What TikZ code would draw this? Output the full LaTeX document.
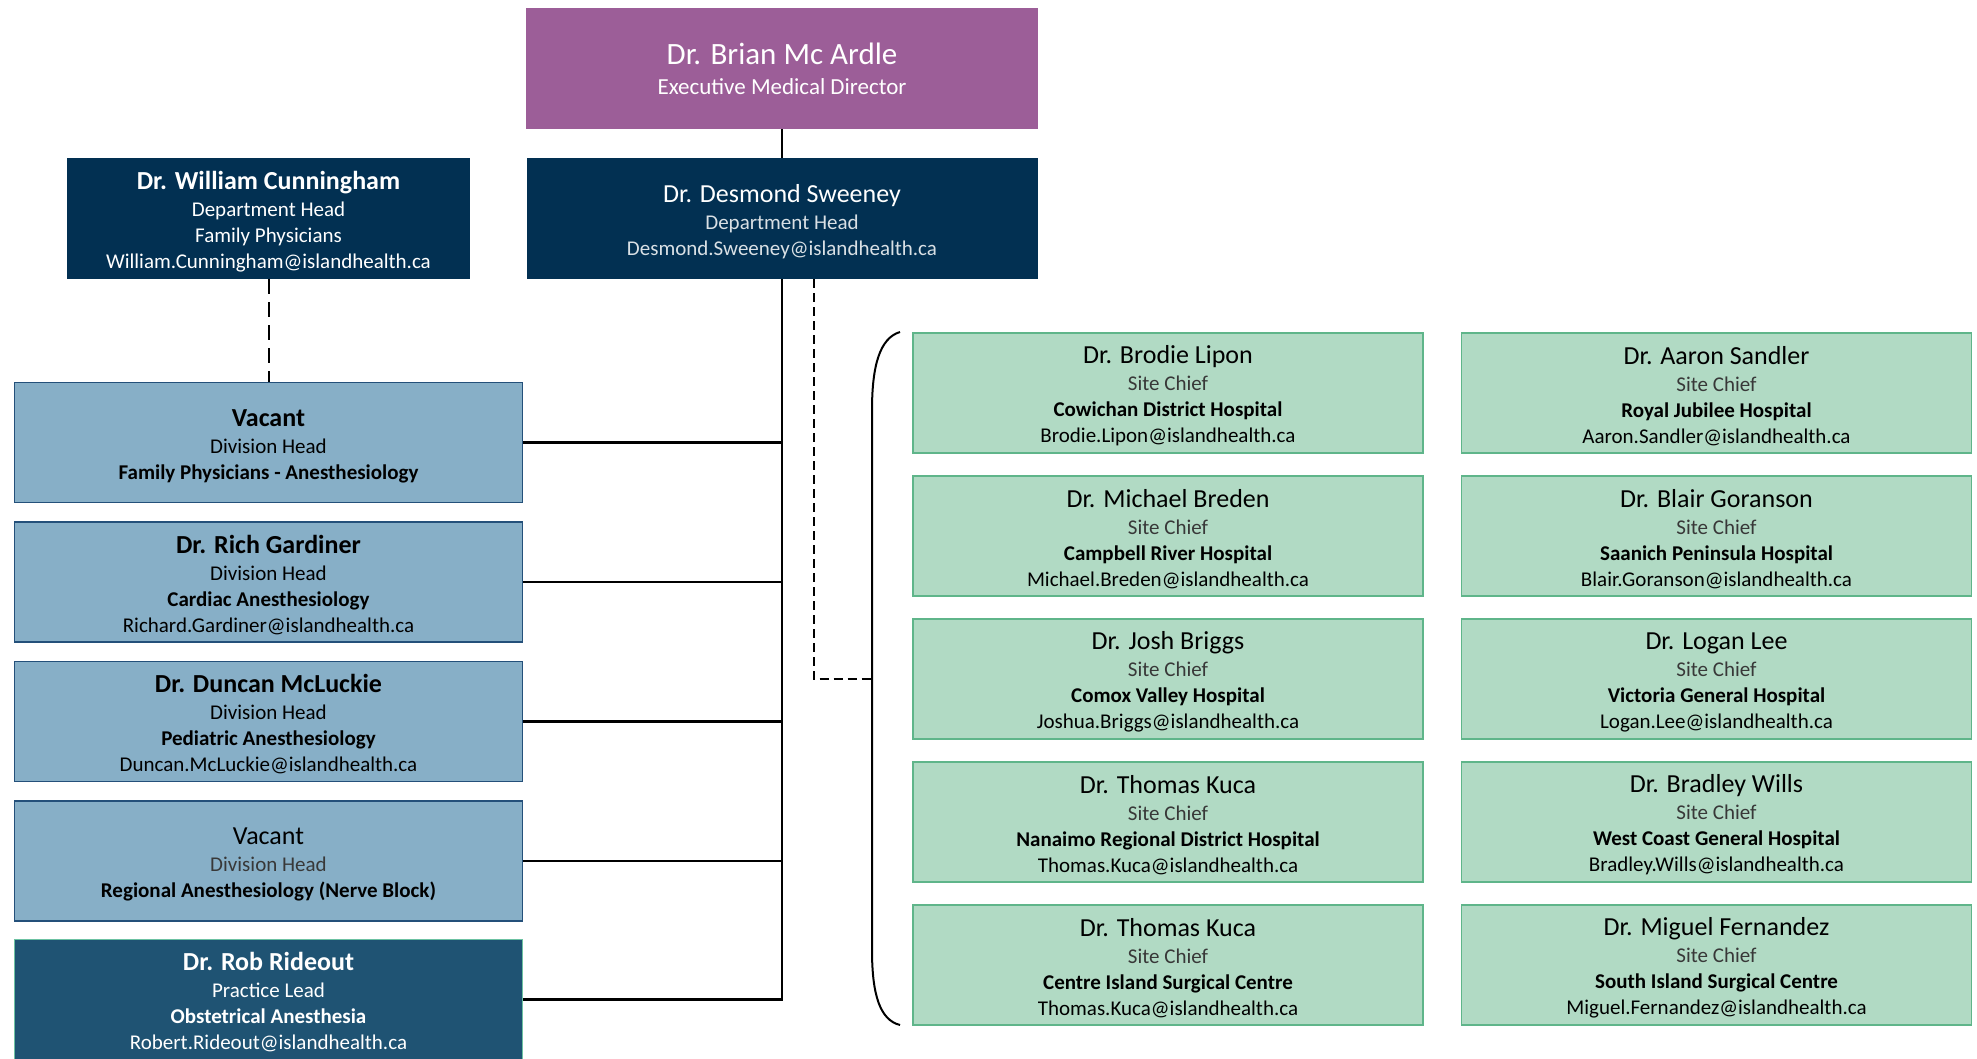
\documentclass[tikz,border=0pt]{standalone}
\usepackage{fontspec}
\setmainfont{Carlito}
\usepackage{xcolor}
\usepackage{tikz}
\usetikzlibrary{positioning, calc}
\definecolor{execpurple}{HTML}{9C5E98}
\definecolor{headnavy}{HTML}{023052}
\definecolor{divblue}{HTML}{87AFC7}
\definecolor{divedge}{HTML}{24507A}
\definecolor{leadblue}{HTML}{1F5373}
\definecolor{leadedge}{HTML}{6CC2A2}
\definecolor{sitegreen}{HTML}{B1DAC4}
\definecolor{siteedge}{HTML}{5FB58A}
\newcommand\subsize{\fontsize{21}{26}\selectfont}
\newcommand\persname[1]{{\fontsize{26}{26}\selectfont\rule{0pt}{24pt}#1}\\[1pt]}
\newcommand\boldname[1]{{\fontsize{26}{26}\selectfont\bfseries\rule{0pt}{24pt}#1}\\[1pt]}
\newcommand\litetext[1]{{\color{black!78}#1}}
\tikzset{
  box/.style={minimum width=512pt, minimum height=121pt, inner sep=0pt, align=center, font=\subsize},
  execbox/.style={box, fill=execpurple, text=white},
  headbox/.style={box, minimum width=511pt, fill=headnavy, text=white},
  divbox/.style={box, minimum width=508pt, minimum height=120pt, fill=divblue, draw=divedge, line width=1.5pt},
  leadbox/.style={divbox, fill=leadblue, draw=leadedge, text=white},
  sitebox/.style={box, minimum width=510pt, minimum height=120pt, fill=sitegreen, draw=siteedge, line width=1.5pt},
  link/.style={line width=2.5pt},
  dotlink/.style={line width=2pt, dash pattern=on 9pt off 5pt},
  longdash/.style={line width=2pt, dash pattern=on 15pt off 8pt}
}

\begin{document}
\begin{tikzpicture}[x=1pt,y=-1pt]
      \useasboundingbox (0,0) rectangle (1977,1059);

      % top of the chart
      \node [execbox] (exec) at (782,68.5) {{\fontsize{31}{34}\selectfont Dr. Brian Mc Ardle}\\[4pt]{\fontsize{23}{26}\selectfont Executive Medical Director}};
      \node [headbox] (sween) at (782,218.5) {\persname{Dr. Desmond Sweeney}{\color{white!85!headnavy}Department Head}\\{\color{white!85!headnavy}Desmond.Sweeney@islandhealth.ca}};
      \node [headbox, minimum width=403pt] (cunn) at (268.5,218.5) {\boldname{Dr. William Cunningham}Department Head\\Family Physicians\\William.Cunningham@islandhealth.ca};

      % divisions
      \node [divbox] (vac1) at (268.5,442.5) {\boldname{Vacant}Division Head\\\textbf{Family Physicians - Anesthesiology}};
      \node [divbox] (gard) at (268.5,582) {\boldname{Dr. Rich Gardiner}Division Head\\\textbf{Cardiac Anesthesiology}\\Richard.Gardiner@islandhealth.ca};
      \node [divbox] (mcl) at (268.5,721.5) {\boldname{Dr. Duncan McLuckie}Division Head\\\textbf{Pediatric Anesthesiology}\\Duncan.McLuckie@islandhealth.ca};
      \node [divbox] (vac2) at (268.5,861) {\persname{Vacant}\litetext{Division Head}\\\textbf{Regional Anesthesiology (Nerve Block)}};
      \node [leadbox] (ride) at (268.5,999.5) {\boldname{Dr. Rob Rideout}Practice Lead\\\textbf{Obstetrical Anesthesia}\\Robert.Rideout@islandhealth.ca};

      % site chiefs
      \node [sitebox] (lipon) at (1168,393) {\persname{Dr. Brodie Lipon}\litetext{Site Chief}\\\textbf{Cowichan District Hospital}\\Brodie.Lipon@islandhealth.ca};
      \node [sitebox] (breden) at (1168,536) {\persname{Dr. Michael Breden}\litetext{Site Chief}\\\textbf{Campbell River Hospital}\\Michael.Breden@islandhealth.ca};
      \node [sitebox] (briggs) at (1168,679) {\persname{Dr. Josh Briggs}\litetext{Site Chief}\\\textbf{Comox Valley Hospital}\\Joshua.Briggs@islandhealth.ca};
      \node [sitebox] (kuca) at (1168,822) {\persname{Dr. Thomas Kuca}\litetext{Site Chief}\\\textbf{Nanaimo Regional District Hospital}\\Thomas.Kuca@islandhealth.ca};
      \node [sitebox] (kucb) at (1168,965) {\persname{Dr. Thomas Kuca}\litetext{Site Chief}\\\textbf{Centre Island Surgical Centre}\\Thomas.Kuca@islandhealth.ca};
      \node [sitebox] (sandler) at (1716.5,393) {\persname{Dr. Aaron Sandler}\litetext{Site Chief}\\\textbf{Royal Jubilee Hospital}\\Aaron.Sandler@islandhealth.ca};
      \node [sitebox] (goranson) at (1716.5,536) {\persname{Dr. Blair Goranson}\litetext{Site Chief}\\\textbf{Saanich Peninsula Hospital}\\Blair.Goranson@islandhealth.ca};
      \node [sitebox] (lee) at (1716.5,679) {\persname{Dr. Logan Lee}\litetext{Site Chief}\\\textbf{Victoria General Hospital}\\Logan.Lee@islandhealth.ca};
      \node [sitebox] (wills) at (1716.5,822) {\persname{Dr. Bradley Wills}\litetext{Site Chief}\\\textbf{West Coast General Hospital}\\Bradley.Wills@islandhealth.ca};
      \node [sitebox] (fernandez) at (1716.5,965) {\persname{Dr. Miguel Fernandez}\litetext{Site Chief}\\\textbf{South Island Surgical Centre}\\Miguel.Fernandez@islandhealth.ca};

      % connectors
      \draw [link] (exec) -- (sween);
      \foreach \d in {vac1, gard, mcl, vac2, ride}
        \draw [link] (sween.south) |- (\d.east);
      \draw [longdash] (cunn.south) -- (vac1.north);

      \coordinate (brtop) at (900,332);
      \coordinate (brmid) at (872,679);
      \coordinate (brbot) at (900,1025);
      \draw [line width=2pt] (brtop) .. controls (880,338) and (872,365) .. (872,410) -- (brmid) -- (872,950) .. controls (872,995) and (880,1020) .. (brbot);
      \draw [dotlink] ([xshift=31.5pt]sween.south) |- (brmid);
    \end{tikzpicture}
\end{document}
